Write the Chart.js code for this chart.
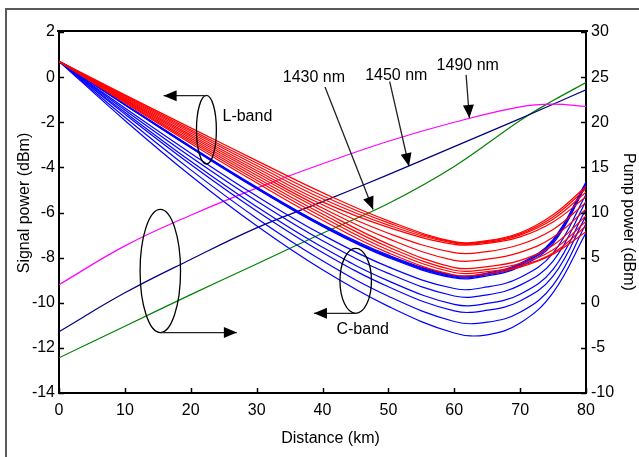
<!DOCTYPE html>
<html>
<head>
<meta charset="utf-8">
<script src="https://cdn.jsdelivr.net/npm/chart.js@4.4.1/dist/chart.umd.min.js"></script>
<style>
  body { margin: 0; background: #fff; }
  canvas { display: block; }
</style>
</head>
<body>
<canvas id="myChart" width="639" height="457"></canvas>
<script>
// distance along the fiber (km) for the signal curves
var km = [0, 10, 20, 30, 40, 50, 60, 65, 70, 75, 80];

// L-band signal power (dBm), one row per channel
var lBand = [
  [0.7, -0.78, -2.25, -3.70, -5.12, -6.37, -7.29, -7.25, -6.90, -6.10, -4.85],
  [0.7, -0.82, -2.33, -3.81, -5.26, -6.46, -7.32, -7.28, -6.95, -6.20, -4.95],
  [0.7, -0.86, -2.40, -3.92, -5.39, -6.56, -7.36, -7.32, -7.00, -6.30, -5.10],
  [0.7, -0.90, -2.48, -4.03, -5.53, -6.66, -7.41, -7.37, -7.08, -6.42, -5.30],
  [0.7, -0.94, -2.56, -4.14, -5.66, -6.92, -7.78, -7.73, -7.42, -6.75, -5.55],
  [0.7, -0.98, -2.63, -4.24, -5.80, -7.16, -8.12, -8.07, -7.77, -7.10, -5.85],
  [0.7, -1.02, -2.71, -4.35, -5.93, -7.40, -8.44, -8.40, -8.12, -7.45, -6.15],
  [0.7, -1.06, -2.79, -4.46, -6.07, -7.53, -8.56, -8.52, -8.26, -7.65, -6.40],
  [0.7, -1.10, -2.86, -4.57, -6.20, -7.66, -8.66, -8.62, -8.36, -7.80, -6.60],
  [0.7, -1.14, -2.94, -4.68, -6.34, -7.79, -8.77, -8.72, -8.42, -7.85, -6.85]
];

// C-band signal power (dBm)
var cBand = [
  [0.7, -1.20, -3.07, -4.87, -6.53, -7.89, -8.78, -8.68, -8.25, -7.20, -4.65],
  [0.7, -1.21, -3.09, -4.90, -6.56, -7.93, -8.82, -8.72, -8.30, -7.25, -4.70],
  [0.7, -1.22, -3.11, -4.92, -6.59, -7.96, -8.86, -8.76, -8.34, -7.30, -4.75],
  [0.7, -1.23, -3.13, -4.95, -6.62, -8.00, -8.90, -8.81, -8.40, -7.38, -4.80],
  [0.7, -1.37, -3.37, -5.27, -6.99, -8.41, -9.37, -9.30, -8.88, -7.80, -5.20],
  [0.7, -1.46, -3.54, -5.49, -7.25, -8.70, -9.70, -9.65, -9.22, -8.15, -5.50],
  [0.7, -1.56, -3.73, -5.74, -7.54, -9.03, -10.07, -10.03, -9.62, -8.52, -5.85],
  [0.7, -1.64, -3.87, -5.93, -7.77, -9.29, -10.36, -10.33, -9.92, -8.82, -6.15],
  [0.7, -1.78, -4.11, -6.25, -8.14, -9.71, -10.83, -10.86, -10.42, -9.22, -6.50],
  [0.7, -1.92, -4.37, -6.59, -8.54, -10.16, -11.34, -11.42, -10.90, -9.55, -6.90]
];

// pump power (dBm), right axis
var pumpKm = [0, 10, 20, 30, 40, 50, 60, 70, 75, 80];
var pump1430 = [-6.1, -2.6, 0.9, 4.3, 7.7, 11.0, 15.1, 20.2, 22.4, 24.4];
var pump1450 = [-3.2, 1.1, 4.8, 8.3, 11.2, 14.2, 17.3, 20.4, 22.0, 23.6];
var pump1490 = [2.0, 6.3, 9.7, 12.7, 15.4, 17.9, 20.0, 21.7, 22.0, 21.75];

// tick labels
var xTicks = [0, 10, 20, 30, 40, 50, 60, 70, 80];
var signalTicks = [2, 0, -2, -4, -6, -8, -10, -12, -14];
var pumpTicks = [30, 25, 20, 15, 10, 5, 0, -5, -10];

var FONT = "'Liberation Sans', Arial, sans-serif";

// annotation marks, in axis units (km, dBm of the left axis)
var ellipses = [
  { x: 22.38, y: -2.33, rx: 1.51, ry: 1.52 },
  { x: 15.38, y: -8.59, rx: 3.07, ry: 2.73 },
  { x: 45.04, y: -9.03, rx: 2.39, ry: 1.44 }
];
var arrows = [
  { x0: 22.38, y0: -0.82, x1: 15.88, y1: -0.82 },
  { x0: 15.38, y0: -11.32, x1: 27.0, y1: -11.32 },
  { x0: 45.0, y0: -10.47, x1: 38.7, y1: -10.47 },
  { x0: 40.38, y0: -0.44, x1: 47.68, y1: -5.87 },
  { x0: 50.2, y0: -0.2, x1: 53.13, y1: -3.95 },
  { x0: 61.8, y0: 0.1, x1: 62.3, y1: -1.81 }
];
var notes = [
  { text: 'L-band', x: 28.6, y: -1.74 },
  { text: 'C-band', x: 46.1, y: -11.2 },
  { text: '1430 nm', x: 38.7, y: -0.03 },
  { text: '1450 nm', x: 51.2, y: 0.06 },
  { text: '1490 nm', x: 62.05, y: 0.51 }
];

function toPoints(xs, ys) {
  var pts = [];
  for (var i = 0; i < xs.length; i++) pts.push({ x: xs[i], y: ys[i] });
  return pts;
}

function lineSet(xs, ys, color, axis) {
  return {
    data: toPoints(xs, ys),
    borderColor: color,
    borderWidth: 1.2,
    pointRadius: 0,
    fill: false,
    tension: 0.4,
    yAxisID: axis
  };
}

var datasets = [];
for (var i = 0; i < lBand.length; i++) datasets.push(lineSet(km, lBand[i], '#ff0000', 'y'));
for (var j = 0; j < cBand.length; j++) datasets.push(lineSet(km, cBand[j], '#0000ff', 'y'));
datasets.push(lineSet(pumpKm, pump1490, '#ff00ff', 'y1'));
datasets.push(lineSet(pumpKm, pump1450, '#000080', 'y1'));
datasets.push(lineSet(pumpKm, pump1430, '#008000', 'y1'));

function setTicks(list) {
  return function (scale) {
    scale.ticks = list.map(function (v) { return { value: v }; });
  };
}

function drawHead(ctx, x0, y0, x1, y1) {
  var a = Math.atan2(y1 - y0, x1 - x0);
  var len = 13, half = 5.5;
  ctx.beginPath();
  ctx.moveTo(x1, y1);
  ctx.lineTo(x1 - len * Math.cos(a) + half * Math.sin(a), y1 - len * Math.sin(a) - half * Math.cos(a));
  ctx.lineTo(x1 - len * Math.cos(a) - half * Math.sin(a), y1 - len * Math.sin(a) + half * Math.cos(a));
  ctx.closePath();
  ctx.fill();
}

var decor = {
  id: 'decor',
  beforeDraw: function (chart) {
    var ctx = chart.ctx;
    ctx.save();
    ctx.fillStyle = '#fff';
    ctx.fillRect(0, 0, chart.width, chart.height);
    // outer grey frame (only top and left show)
    ctx.strokeStyle = '#5a5a5a';
    ctx.lineWidth = 2;
    ctx.beginPath();
    ctx.moveTo(6, chart.height);
    ctx.lineTo(6, 9);
    ctx.lineTo(chart.width, 9);
    ctx.stroke();
    ctx.restore();
  },
  afterDraw: function (chart) {
    var ctx = chart.ctx, a = chart.chartArea;
    var sx = chart.scales.x, sy = chart.scales.y, sy1 = chart.scales.y1;
    ctx.save();
    ctx.strokeStyle = '#000';
    ctx.fillStyle = '#000';
    // top edge of the plot box
    ctx.lineWidth = 2;
    ctx.beginPath();
    ctx.moveTo(a.left - 2, a.top - 1);
    ctx.lineTo(a.right + 2, a.top - 1);
    ctx.stroke();
    // inward tick marks
    ctx.lineWidth = 1.5;
    ctx.beginPath();
    xTicks.forEach(function (v) {
      var p = Math.round(sx.getPixelForValue(v)) + 0.5;
      ctx.moveTo(p, a.bottom); ctx.lineTo(p, a.bottom - 5);
    });
    signalTicks.forEach(function (v) {
      var p = Math.round(sy.getPixelForValue(v)) + 0.5;
      ctx.moveTo(a.left, p); ctx.lineTo(a.left + 5, p);
    });
    pumpTicks.forEach(function (v) {
      var p = Math.round(sy1.getPixelForValue(v)) + 0.5;
      ctx.moveTo(a.right, p); ctx.lineTo(a.right - 5, p);
    });
    ctx.stroke();

    // axis titles
    ctx.font = '16px ' + FONT;
    ctx.textAlign = 'center';
    ctx.textBaseline = 'middle';
    ctx.fillText('Distance (km)', (a.left + a.right) / 2 + 8, 439);
    ctx.save();
    ctx.translate(25, 203);
    ctx.rotate(-Math.PI / 2);
    ctx.fillText('Signal power (dBm)', 0, 0);
    ctx.restore();
    ctx.save();
    ctx.translate(628, 222);
    ctx.rotate(Math.PI / 2);
    ctx.fillText('Pump power (dBm)', 0, 0);
    ctx.restore();

    // ellipses
    ctx.lineWidth = 1.3;
    ellipses.forEach(function (e) {
      var cx = sx.getPixelForValue(e.x), cy = sy.getPixelForValue(e.y);
      var rx = Math.abs(sx.getPixelForValue(e.x + e.rx) - cx);
      var ry = Math.abs(sy.getPixelForValue(e.y + e.ry) - cy);
      ctx.beginPath();
      ctx.ellipse(cx, cy, rx, ry, 0, 0, Math.PI * 2);
      ctx.stroke();
    });
    // arrows
    arrows.forEach(function (r) {
      var x0 = sx.getPixelForValue(r.x0), y0 = sy.getPixelForValue(r.y0);
      var x1 = sx.getPixelForValue(r.x1), y1 = sy.getPixelForValue(r.y1);
      ctx.strokeStyle = '#222';
      ctx.beginPath();
      ctx.moveTo(x0, y0); ctx.lineTo(x1, y1);
      ctx.stroke();
      drawHead(ctx, x0, y0, x1, y1);
    });
    // labels
    notes.forEach(function (n) {
      ctx.fillText(n.text, sx.getPixelForValue(n.x), sy.getPixelForValue(n.y));
    });
    ctx.restore();
  }
};

var ctx = document.getElementById('myChart');
var myChart = new Chart(ctx, {
  type: 'line',
  data: { datasets: datasets },
  options: {
    responsive: false,
    animation: false,
    layout: { padding: { top: 32, left: 0, right: 0, bottom: 0 } },
    plugins: { legend: { display: false }, tooltip: { enabled: false } },
    scales: {
      x: {
        type: 'linear', min: 0, max: 80,
        afterBuildTicks: setTicks(xTicks),
        afterFit: function (s) { s.height = 64; },
        grid: { display: true, drawOnChartArea: false, drawTicks: false },
        border: { display: true, color: '#000', width: 2 },
        ticks: { color: '#000', padding: 8, font: { size: 16, family: FONT } }
      },
      y: {
        position: 'left', min: -14, max: 2,
        afterBuildTicks: setTicks(signalTicks),
        afterFit: function (s) { s.width = 59; },
        grid: { display: true, drawOnChartArea: false, drawTicks: false },
        border: { display: true, color: '#000', width: 2 },
        ticks: { color: '#000', padding: 4, font: { size: 16, family: FONT } }
      },
      y1: {
        position: 'right', min: -10, max: 30,
        afterBuildTicks: setTicks(pumpTicks),
        afterFit: function (s) { s.width = 53; },
        grid: { display: true, drawOnChartArea: false, drawTicks: false },
        border: { display: true, color: '#000', width: 2 },
        ticks: { color: '#000', padding: 5, font: { size: 16, family: FONT } }
      }
    }
  },
  plugins: [decor]
});
</script>
</body>
</html>
